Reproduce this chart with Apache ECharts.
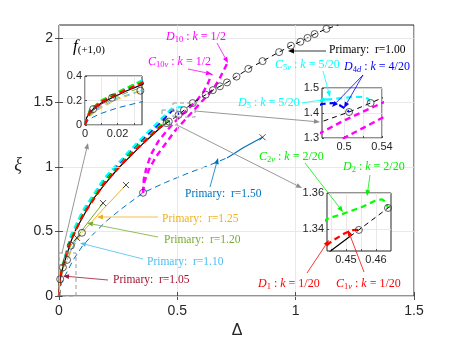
<!DOCTYPE html>
<html>
<head>
<meta charset="utf-8">
<script src="https://cdn.jsdelivr.net/npm/echarts@6/dist/echarts.min.js"></script>
<style>
  html, body { margin: 0; padding: 0; background: #fff; }
  #main { width: 457px; height: 343px; }
</style>
</head>
<body>
<div id="main"></div>
<script>
// ---- data: [Delta, xi] pairs ----
var primary100Solid = [[0,0],[0.001,0.06],[0.003,0.1],[0.005,0.13],[0.01,0.18],[0.017,0.225],[0.025,0.275],[0.035,0.33],[0.05,0.42],[0.07,0.51],[0.1,0.61],[0.14,0.74],[0.19,0.86],[0.25,0.99],[0.3,1.08],[0.36,1.19],[0.42,1.29],[0.4453,1.3283],[0.4513,1.3358]];
var primary100Dash = [[0.4513,1.3358],[0.4543,1.3395],[0.464,1.3517],[0.477,1.366],[0.5053,1.404],[0.528,1.44],[0.54,1.46],[0.565,1.495],[0.62,1.56],[0.65,1.595],[0.68,1.625],[0.71,1.655],[0.75,1.7],[0.8,1.76],[0.86,1.82],[0.93,1.89],[0.98,1.94],[1.02,1.97],[1.05,2.0],[1.08,2.03],[1.13,2.07],[1.18,2.1]];
var primary100Circles = [[0.005,0.13],[0.0166,0.222],[0.4543,1.3395],[0.464,1.3517],[0.5053,1.404],[0.528,1.44],[0.565,1.495],[0.62,1.56],[0.65,1.595],[0.68,1.625],[0.71,1.655],[0.75,1.7],[0.8,1.76],[0.86,1.82],[0.93,1.89],[0.98,1.94],[1.02,1.97],[1.05,2.0],[1.08,2.03],[1.13,2.07]];
var branchCircles = [[0.034,0.28],[0.05,0.39],[0.097,0.49],[0.355,0.8]];
var branchEnds = [[0.076,0.45],[0.186,0.72],[0.283,0.86],[0.86,1.23]];

var primary105Dash = [[0,0],[0.002,0.07],[0.005,0.12]];
var primary105Solid = [[0.005,0.12],[0.01,0.17],[0.014,0.2]];
var primary110Dash = [[0,0],[0.002,0.06],[0.005,0.1],[0.01,0.15],[0.02,0.22],[0.034,0.28]];
var primary110Solid = [[0.034,0.28],[0.055,0.37],[0.076,0.45]];
var primary120Dash = [[0,0],[0.002,0.065],[0.005,0.11],[0.01,0.16],[0.02,0.235],[0.035,0.31],[0.05,0.39]];
var primary120Solid = [[0.05,0.39],[0.12,0.565],[0.186,0.72]];
var primary125Dash = [[0,0],[0.002,0.055],[0.005,0.095],[0.01,0.14],[0.02,0.21],[0.035,0.28],[0.06,0.38],[0.097,0.49]];
var primary125Solid = [[0.097,0.49],[0.19,0.68],[0.283,0.86]];
var primary150Dash = [[0,0],[0.002,0.04],[0.005,0.065],[0.01,0.095],[0.02,0.14],[0.035,0.19],[0.06,0.28],[0.1,0.39],[0.15,0.49],[0.2,0.58],[0.26,0.67],[0.355,0.8],[0.45,0.88],[0.55,0.955],[0.63,1.01],[0.71,1.07]];
var primary150Solid = [[0.71,1.07],[0.78,1.15],[0.86,1.23]];

var branchK1 = [[0,0],[0.003,0.11],[0.01,0.19],[0.025,0.285],[0.05,0.43],[0.1,0.62],[0.19,0.87],[0.3,1.09],[0.42,1.298],[0.4453,1.3333],[0.4495,1.3375],[0.452,1.3394],[0.4543,1.3395]];
var branchK2 = [[0,0],[0.003,0.12],[0.01,0.2],[0.025,0.3],[0.05,0.44],[0.1,0.63],[0.19,0.88],[0.3,1.1],[0.42,1.31],[0.4437,1.3456],[0.45,1.349],[0.455,1.352],[0.4595,1.3555],[0.462,1.3565],[0.4633,1.355],[0.464,1.3517]];
var branchK4 = [[0,0],[0.003,0.115],[0.01,0.195],[0.025,0.295],[0.05,0.455],[0.1,0.645],[0.19,0.895],[0.3,1.115],[0.37,1.24],[0.42,1.325],[0.45,1.385],[0.4768,1.436],[0.488,1.44],[0.495,1.432],[0.501,1.418],[0.5053,1.404]];
var branchK5 = [[0,0],[0.003,0.115],[0.01,0.195],[0.025,0.295],[0.05,0.47],[0.1,0.66],[0.19,0.91],[0.3,1.13],[0.37,1.26],[0.42,1.35],[0.45,1.405],[0.4768,1.452],[0.488,1.456],[0.5095,1.464],[0.52,1.464],[0.525,1.458],[0.528,1.44]];
var branchC10v = [[0.355,0.8],[0.358,0.9],[0.37,1.0],[0.39,1.1],[0.42,1.2],[0.46,1.29],[0.5,1.37],[0.54,1.44],[0.58,1.51],[0.61,1.58],[0.63,1.65],[0.645,1.72]];
var branchD10 = [[0.355,0.8],[0.36,0.88],[0.38,0.98],[0.41,1.08],[0.45,1.18],[0.49,1.28],[0.53,1.36],[0.57,1.44],[0.61,1.52],[0.65,1.6],[0.68,1.69],[0.71,1.8]];

var SANS = 'Liberation Sans, Arial, sans-serif';
var SERIF = 'Liberation Serif, DejaVu Serif, serif';
var DASH = [6, 4];

// drawing order: first drawn is at the bottom
var curves = [
  {data: primary100Solid, color: '#000000', width: 1.2},
  {data: primary105Dash, color: '#A2142F', width: 1, dash: DASH},
  {data: primary105Solid, color: '#A2142F', width: 1},
  {data: primary110Dash, color: '#4DBEEE', width: 1, dash: DASH},
  {data: primary110Solid, color: '#4DBEEE', width: 1},
  {data: primary120Dash, color: '#77AC30', width: 1, dash: DASH},
  {data: primary120Solid, color: '#77AC30', width: 1},
  {data: primary125Dash, color: '#EDB120', width: 1, dash: DASH},
  {data: primary125Solid, color: '#EDB120', width: 1},
  {data: primary150Dash, color: '#0072BD', width: 1, dash: DASH},
  {data: primary150Solid, color: '#0072BD', width: 1.2},
  {data: branchK4, color: '#0000FF', width: 2.2, dash: DASH},
  {data: branchK5, color: '#00FFFF', width: 2.2, dash: DASH},
  {data: branchK2, color: '#00FF00', width: 2.2, dash: DASH},
  {data: branchK1, color: '#FF0000', width: 2.2, dash: DASH},
  {data: branchC10v, color: '#FF00FF', width: 2.4, dash: DASH},
  {data: branchD10, color: '#FF00FF', width: 2.4, dash: DASH},
  {data: primary100Dash, color: '#000000', width: 1, dash: [5, 4]}
];

var grids = [
  {left: 59, top: 25, width: 355, height: 271, show: true, borderColor: '#262626', borderWidth: 1, z: 0},
  {left: 85, top: 76, width: 57, height: 49, show: true, borderColor: '#262626', borderWidth: 1, backgroundColor: '#fff', z: 10},
  {left: 322, top: 88, width: 60, height: 50, show: true, borderColor: '#262626', borderWidth: 1, backgroundColor: '#fff', z: 10},
  {left: 327, top: 193, width: 64, height: 58, show: true, borderColor: '#262626', borderWidth: 1, backgroundColor: '#fff', z: 10}
];

var xRanges = [
  {min: 0, max: 1.5, ticks: [0, 0.5, 1, 1.5], labels: [0, 0.5, 1, 1.5]},
  {min: 0, max: 0.035, ticks: [0, 0.01, 0.02, 0.03], labels: [0, 0.02]},
  {min: 0.4768, max: 0.54, ticks: [0.5, 0.52, 0.54], labels: [0.5, 0.54]},
  {min: 0.4437, max: 0.465, ticks: [0.445, 0.45, 0.455, 0.46], labels: [0.45, 0.46]}
];
var yRanges = [
  {min: 0, max: 2.1, ticks: [0, 0.5, 1, 1.5, 2], labels: [0, 0.5, 1, 1.5, 2]},
  {min: 0, max: 0.4, ticks: [0, 0.2, 0.4], labels: [0, 0.2, 0.4]},
  {min: 1.3, max: 1.5, ticks: [1.3, 1.4, 1.5], labels: [1.3, 1.4, 1.5]},
  {min: 1.3278, max: 1.36, ticks: [1.34, 1.36], labels: [1.34, 1.36]}
];

function makeAxis(r, i, isX) {
  var main = i === 0;
  return {
    type: 'value', gridIndex: i, min: r.min, max: r.max, z: main ? 3 : 11,
    axisLine: {show: false},
    axisTick: {show: true, inside: true, length: main ? 4 : 2, customValues: r.ticks,
      lineStyle: {color: '#262626', width: 0.8}},
    axisLabel: {customValues: r.labels, color: '#262626', fontFamily: SANS,
      fontSize: main ? 14 : 11, margin: main ? (isX ? 8 : 6) : 3,
      formatter: function (v) { return String(+v.toFixed(4)); }},
    splitLine: {show: true, lineStyle: {color: '#e3e3e3', width: 0.8}}
  };
}

var xAxes = xRanges.map(function (r, i) { return makeAxis(r, i, true); });
var yAxes = yRanges.map(function (r, i) { return makeAxis(r, i, false); });
// mirrored ticks on the top and right of the main box
xAxes.push({type: 'value', gridIndex: 0, position: 'top', min: 0, max: 1.5,
  axisLine: {show: false}, axisLabel: {show: false}, splitLine: {show: false},
  axisTick: {inside: true, length: 4, customValues: xRanges[0].ticks, lineStyle: {color: '#262626', width: 0.8}}});
yAxes.push({type: 'value', gridIndex: 0, position: 'right', min: 0, max: 2.1,
  axisLine: {show: false}, axisLabel: {show: false}, splitLine: {show: false},
  axisTick: {inside: true, length: 4, customValues: yRanges[0].ticks, lineStyle: {color: '#262626', width: 0.8}}});

var series = [];
for (var g = 0; g < grids.length; g++) {
  var zBase = g === 0 ? 2 : 12;
  curves.forEach(function (c) {
    series.push({
      type: 'line', xAxisIndex: g, yAxisIndex: g, data: c.data,
      showSymbol: false, symbol: 'none', silent: true, clip: true, z: zBase,
      lineStyle: {color: c.color, width: c.width, type: c.dash || 'solid'}
    });
  });
  series.push({
    type: 'scatter', xAxisIndex: g, yAxisIndex: g, silent: true, clip: true, z: zBase + 1,
    data: primary100Circles.concat(branchCircles), symbol: 'circle', symbolSize: 7,
    itemStyle: {color: 'transparent', borderColor: '#333', borderWidth: 1}
  });
  series.push({
    type: 'scatter', xAxisIndex: g, yAxisIndex: g, silent: true, clip: true, z: zBase + 1,
    data: branchEnds, symbol: 'path://M0,0L10,10M10,0L0,10', symbolSize: 6,
    itemStyle: {color: 'transparent', borderColor: '#222', borderWidth: 1}
  });
}

// ---- annotations (pixel positions) ----
var RICH = {
  i: {fontFamily: SERIF, fontStyle: 'italic', fontSize: 12, lineHeight: 14},
  n: {fontFamily: SERIF, fontSize: 12, lineHeight: 14},
  s: {fontFamily: SERIF, fontSize: 8.5, lineHeight: 9, verticalAlign: 'bottom'},
  si: {fontFamily: SERIF, fontStyle: 'italic', fontSize: 8.5, lineHeight: 9, verticalAlign: 'bottom'},
  p: {fontFamily: SERIF, fontSize: 11.5, lineHeight: 14}
};

var notes = [
  {t: '{i|D}{s|10}{n| : }{i|k}{n| = 1/2}', x: 166, y: 37, c: '#FF00FF', a: [217, 43, 228, 63]},
  {t: '{i|C}{s|10}{si|v}{n| : }{i|k}{n| = 1/2}', x: 148, y: 62, c: '#FF00FF', a: [188, 69, 212, 74]},
  {t: '{p|Primary:  r=1.00}', x: 329, y: 50, c: '#000000', a: [326, 51, 288, 51]},
  {t: '{i|C}{s|5}{si|v}{n| : }{i|k}{n| = 5/20}', x: 275, y: 65, c: '#00FFFF', a: [323, 71, 330, 97]},
  {t: '{i|D}{s|4}{si|d}{n| : }{i|k}{n| = 4/20}', x: 344, y: 67, c: '#0000FF', a: [363, 75, 332, 107]},
  {t: '', x: 0, y: 0, c: '#0000FF', a: [363, 75, 344, 108]},
  {t: '{i|D}{s|5}{n| : }{i|k}{n| = 5/20}', x: 238, y: 103, c: '#00FFFF', a: [302, 103, 328, 99]},
  {t: '{p|Primary:  r=1.50}', x: 185, y: 194, c: '#0072BD', a: [210, 187, 218, 158]},
  {t: '{i|C}{s|2}{si|v}{n| : }{i|k}{n| = 2/20}', x: 259, y: 157, c: '#00EE00', a: [305, 163, 343, 212]},
  {t: '{i|D}{s|2}{n| : }{i|k}{n| = 2/20}', x: 343, y: 167, c: '#00EE00', a: [370, 175, 367, 196]},
  {t: '{i|D}{s|1}{n| : }{i|k}{n| = 1/20}', x: 258, y: 284, c: '#FF0000', a: [307, 273, 329, 240]},
  {t: '{i|C}{s|1}{si|v}{n| : }{i|k}{n| = 1/20}', x: 336, y: 284, c: '#FF0000', a: [364, 272, 348, 230]},
  {t: '{p|Primary:  r=1.25}', x: 162, y: 219, c: '#EDB120', a: [158, 217, 97, 217]},
  {t: '{p|Primary:  r=1.20}', x: 164, y: 240, c: '#77AC30', a: [158, 237, 87, 223]},
  {t: '{p|Primary:  r=1.10}', x: 147, y: 262, c: '#4DBEEE', a: [143, 259, 80, 243]},
  {t: '{p|Primary:  r=1.05}', x: 113, y: 280, c: '#A2142F', a: [108, 280, 63, 276]}
];
var grayArrows = [[62, 253, 88, 143], [195, 111, 320, 122], [177, 125, 302, 188]];
var zoomBoxes = [[59, 253, 17, 43], [162, 110, 15, 15], [173, 103, 22, 14]];

function arrow(a, color, w) {
  var ang = Math.atan2(a[3] - a[1], a[2] - a[0]), L = 6, W = 2.4;
  var bx = a[2] - L * Math.cos(ang), by = a[3] - L * Math.sin(ang);
  var px = -Math.sin(ang) * W, py = Math.cos(ang) * W;
  return [
    {type: 'line', z: 100, silent: true, shape: {x1: a[0], y1: a[1], x2: bx, y2: by},
      style: {stroke: color, lineWidth: w || 0.8}},
    {type: 'polygon', z: 100, silent: true,
      shape: {points: [[a[2], a[3]], [bx + px, by + py], [bx - px, by - py]]},
      style: {fill: color}}
  ];
}

var graphics = [];
zoomBoxes.forEach(function (b) {
  graphics.push({type: 'rect', z: 5, silent: true, shape: {x: b[0], y: b[1], width: b[2], height: b[3]},
    style: {fill: 'none', stroke: '#9a9a9a', lineWidth: 1, lineDash: [4, 3]}});
});
grayArrows.forEach(function (a) { graphics = graphics.concat(arrow(a, '#8c8c8c', 0.9)); });
notes.forEach(function (n) {
  graphics = graphics.concat(arrow(n.a, n.c));
  if (n.t) {
    graphics.push({type: 'text', z: 101, silent: true, x: n.x, y: n.y,
      style: {text: n.t, rich: RICH, fill: n.c, align: 'left', verticalAlign: 'middle'}});
  }
});
graphics.push({type: 'text', z: 101, silent: true, x: 73, y: 47,
  style: {text: '{f|f}{s|(+1,0)}', fill: '#000', verticalAlign: 'middle',
    rich: {f: {fontFamily: SERIF, fontStyle: 'italic', fontSize: 17, lineHeight: 18},
           s: {fontFamily: SERIF, fontSize: 11, lineHeight: 12, verticalAlign: 'bottom'}}}});
graphics.push({type: 'text', z: 101, silent: true, x: 237, y: 331,
  style: {text: 'Δ', fill: '#262626', font: '16px ' + SANS, align: 'center', verticalAlign: 'middle'}});
graphics.push({type: 'text', z: 101, silent: true, x: 18, y: 165,
  style: {text: 'ξ', fill: '#262626', font: 'italic 18px ' + SERIF, align: 'center', verticalAlign: 'middle'}});

var chart = echarts.init(document.getElementById('main'));
chart.setOption({
  animation: false,
  backgroundColor: '#fff',
  grid: grids,
  xAxis: xAxes,
  yAxis: yAxes,
  series: series,
  graphic: graphics
});
</script>
</body>
</html>
